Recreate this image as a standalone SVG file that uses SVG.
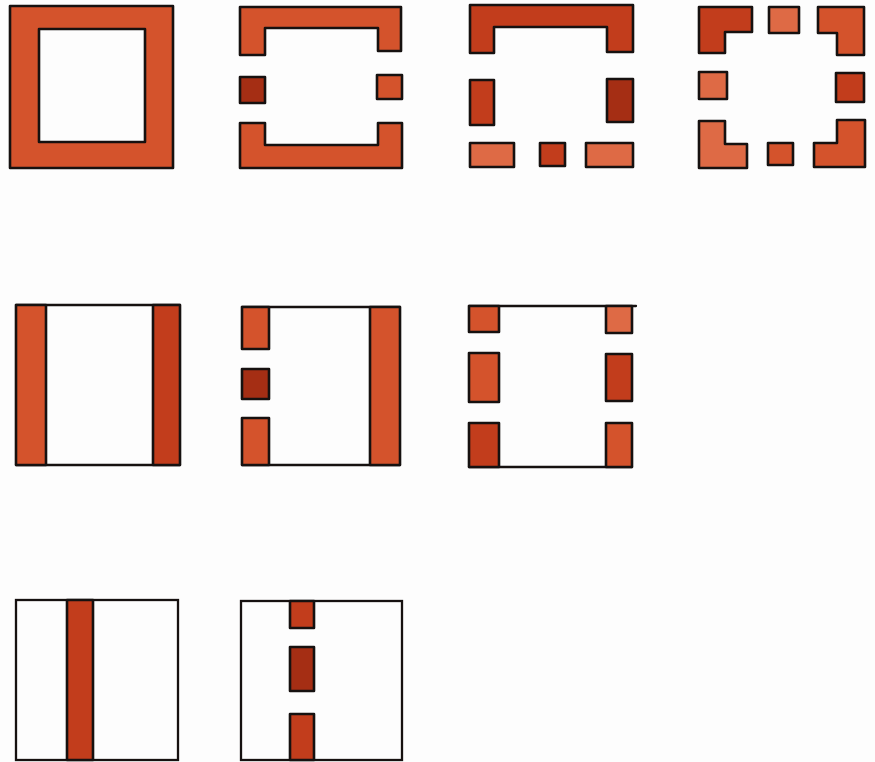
<svg xmlns="http://www.w3.org/2000/svg" width="875" height="762" viewBox="0 0 875 762">
<defs>
<style>
.w{fill:#d4532c;stroke:#161110;stroke-width:2.6;stroke-linejoin:round;fill-rule:evenodd}
.d{fill:#c23d1c}
.dd{fill:#a52e14}
.l{fill:#de6a45}
.ln{fill:none;stroke:#161110;stroke-width:2.3;stroke-linecap:round}
</style>
</defs>
<rect width="875" height="762" fill="#fdfdfd"/>
<g id="plan1">
<path class="w" d="M10,6 H173 V168 H10 Z M39,29 H145 V142 H39 Z"/>
</g>
<g id="plan2">
<path class="w" d="M240,7 H401 V51 H378 V28 H265 V55 H240 Z"/>
<rect class="w dd" x="240" y="77" width="25" height="26"/>
<rect class="w" x="377" y="75" width="25" height="24"/>
<path class="w" d="M240,123 H265 V145 H378 V123 H402 V168 H240 Z"/>
</g>
<g id="plan3">
<path class="w d" d="M470,5 H633 V52 H607 V27 H494 V53 H470 Z"/>
<rect class="w d" x="470" y="80" width="24" height="45"/>
<rect class="w dd" x="607" y="79" width="26" height="43"/>
<rect class="w l" x="470" y="143" width="44" height="24"/>
<rect class="w d" x="540" y="143" width="25" height="23"/>
<rect class="w l" x="586" y="143" width="47" height="24"/>
</g>
<g id="plan4">
<path class="w d" d="M699,7 H752 V32 H725 V53 H699 Z"/>
<rect class="w l" x="769" y="7" width="30" height="26"/>
<path class="w" d="M818,7 H864 V55 H837 V33 H818 Z"/>
<rect class="w l" x="699" y="72" width="28" height="27"/>
<rect class="w d" x="836" y="73" width="28" height="29"/>
<path class="w l" d="M699,121 H725 V144 H747 V168 H699 Z"/>
<rect class="w" x="768" y="143" width="25" height="22"/>
<path class="w" d="M837,120 H865 V167 H814 V143 H837 Z"/>
</g>
<g id="plan5">
<line class="ln" x1="16" y1="305" x2="180" y2="305"/>
<line class="ln" x1="16" y1="465" x2="180" y2="465"/>
<rect class="w" x="16" y="305" width="30" height="160"/>
<rect class="w d" x="153" y="305" width="27" height="160"/>
</g>
<g id="plan6">
<line class="ln" x1="242" y1="307" x2="400" y2="307"/>
<line class="ln" x1="242" y1="465" x2="400" y2="465"/>
<rect class="w" x="242" y="307" width="27" height="42"/>
<rect class="w dd" x="242" y="369" width="27" height="30"/>
<rect class="w" x="242" y="418" width="27" height="47"/>
<rect class="w" x="370" y="307" width="30" height="158"/>
</g>
<g id="plan7">
<line class="ln" x1="469" y1="306" x2="636" y2="306"/>
<line class="ln" x1="469" y1="467" x2="632" y2="467"/>
<rect class="w" x="469" y="306" width="30" height="26"/>
<rect class="w" x="469" y="353" width="30" height="49"/>
<rect class="w d" x="469" y="423" width="30" height="44"/>
<rect class="w l" x="606" y="306" width="26" height="27"/>
<rect class="w d" x="606" y="354" width="26" height="47"/>
<rect class="w" x="606" y="423" width="26" height="44"/>
</g>
<g id="plan8">
<rect class="ln" x="16" y="600" width="162" height="160"/>
<rect class="w d" x="67" y="600" width="26" height="160"/>
</g>
<g id="plan9">
<rect class="ln" x="241" y="601" width="161" height="159"/>
<rect class="w d" x="290" y="601" width="24" height="27"/>
<rect class="w dd" x="290" y="647" width="24" height="44"/>
<rect class="w d" x="290" y="714" width="24" height="46"/>
</g>
</svg>
